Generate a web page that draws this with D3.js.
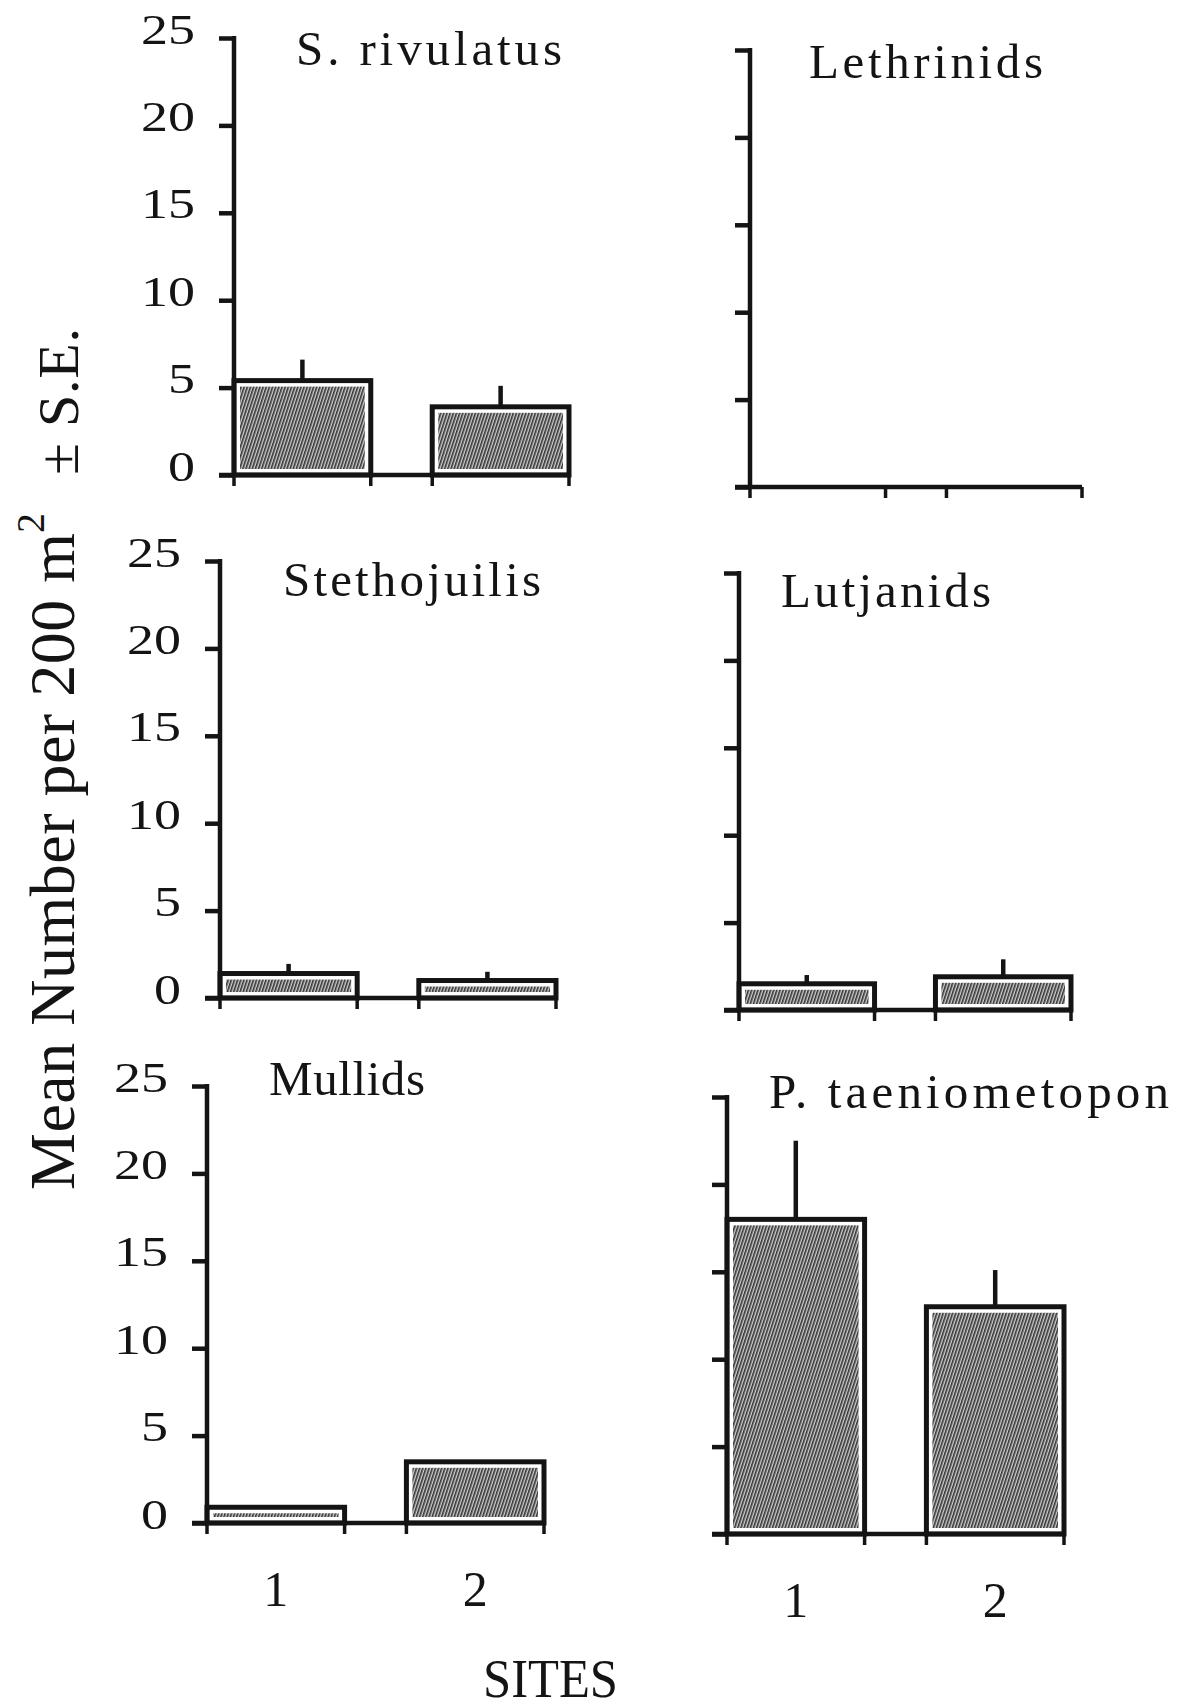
<!DOCTYPE html>
<html>
<head>
<meta charset="utf-8">
<script src="https://cdn.jsdelivr.net/npm/d3@7"></script>
<style>
  html, body { margin: 0; padding: 0; background: #fff; }
  svg { display: block; }
</style>
</head>
<body>
<script>
// ---------------- data ----------------
const species   = ["S. rivulatus", "Lethrinids", "Stethojuilis", "Lutjanids", "Mullids", "P. taeniometopon"];
const sites     = ["1", "2"];
const site1Mean = [5.4, 0, 1.4, 1.5, 0.9, 18.0];
const site2Mean = [3.9, 0, 1.0, 1.9, 3.5, 13.0];
const site1SE   = [1.2, 0, 0.55, 0.5, 0, 4.5];
const site2SE   = [1.2, 0, 0.5, 1.0, 0, 2.1];
const yTickValues = [0, 5, 10, 15, 20, 25];
const yLabelMain = "Mean Number per 200 m";
const yLabelSup  = "2";
const yLabelTail = "\u00B1 S.E.";
const xTitle = "SITES";

// ---------------- layout (positions only) ----------------
const W = 1193, H = 1708, PH = 437;
const layout = [
  { x0: 234, x1: 569,  y0: 475,  tx: 296, ty: 65,   tw: 266, ticks: true,  xl: false },
  { x0: 750, x1: 1082, y0: 487,  tx: 809, ty: 78,   tw: 234, ticks: false, xl: false },
  { x0: 220, x1: 556,  y0: 998,  tx: 283, ty: 596,  tw: 258, ticks: true,  xl: false },
  { x0: 739, x1: 1071, y0: 1010, tx: 781, ty: 607,  tw: 210, ticks: false, xl: false },
  { x0: 207, x1: 544,  y0: 1523, tx: 269, ty: 1095, tw: 156, ticks: true,  xl: true  },
  { x0: 727, x1: 1064, y0: 1534, tx: 769, ty: 1108, tw: 400, ticks: false, xl: true  }
];

const INK = "#141414";
const SERIF = "'Liberation Serif', 'DejaVu Serif', serif";

const svg = d3.select("body").append("svg")
  .attr("width", W).attr("height", H)
  .attr("viewBox", `0 0 ${W} ${H}`);

svg.append("rect").attr("width", W).attr("height", H).attr("fill", "#fff");

// hatch pattern
const defs = svg.append("defs");
const pat = defs.append("pattern")
  .attr("id", "hatch")
  .attr("patternUnits", "userSpaceOnUse")
  .attr("width", 3).attr("height", 3)
  .attr("patternTransform", "rotate(18)");
pat.append("rect").attr("width", 3).attr("height", 3).attr("fill", "#cfcfcf");
pat.append("line").attr("x1", 0.8).attr("y1", 0).attr("x2", 0.8).attr("y2", 3)
  .attr("stroke", "#333").attr("stroke-width", 1.6);

species.forEach((name, i) => {
  const L = layout[i];
  const g = svg.append("g");
  const means = [site1Mean[i], site2Mean[i]];
  const ses = [site1SE[i], site2SE[i]];

  const y = d3.scaleLinear().domain([0, 25]).range([L.y0, L.y0 - PH]);
  const x = d3.scaleBand().domain(sites).range([L.x0, L.x1])
    .paddingInner(0.31).paddingOuter(0);
  const bw = x.bandwidth();

  // bars
  sites.forEach((s, j) => {
    const v = means[j];
    if (v <= 0) return;
    const bx = x(s), by = y(v), bh = L.y0 - by;
    g.append("rect")
      .attr("x", bx).attr("y", by).attr("width", bw).attr("height", bh)
      .attr("fill", "#fff").attr("stroke", INK).attr("stroke-width", 5);
    const ins = 6;
    if (bh > 2 * ins) {
      g.append("rect")
        .attr("x", bx + ins).attr("y", by + ins)
        .attr("width", bw - 2 * ins).attr("height", bh - 2 * ins)
        .attr("fill", "url(#hatch)");
    }
    if (ses[j] > 0) {
      g.append("line")
        .attr("x1", bx + bw / 2).attr("x2", bx + bw / 2)
        .attr("y1", by).attr("y2", y(v + ses[j]))
        .attr("stroke", INK).attr("stroke-width", 4.5);
    }
  });

  // y axis
  const yAxis = d3.axisLeft(y).tickValues(yTickValues).tickSize(15).tickPadding(24)
    .tickFormat(L.ticks ? d3.format("d") : () => "");
  const ga = g.append("g").attr("transform", `translate(${L.x0},0)`).call(yAxis);
  ga.select(".domain").remove();
  ga.selectAll(".tick line").attr("stroke", INK).attr("stroke-width", 4.5);
  ga.selectAll(".tick text")
    .attr("fill", INK)
    .attr("font-family", SERIF)
    .attr("font-size", 43)
    .attr("dy", "0.12em")
    .each(function () {
      const t = d3.select(this).text();
      if (t) d3.select(this).attr("textLength", 27 * t.length).attr("lengthAdjust", "spacingAndGlyphs");
    });
  g.append("line")
    .attr("x1", L.x0).attr("x2", L.x0)
    .attr("y1", y(25) - 2).attr("y2", L.y0 + 2)
    .attr("stroke", INK).attr("stroke-width", 4.5);

  // x baseline and band-edge ticks
  g.append("line")
    .attr("x1", L.x0 - 15).attr("x2", L.x1)
    .attr("y1", L.y0).attr("y2", L.y0)
    .attr("stroke", INK).attr("stroke-width", 4.5);
  const edges = [];
  sites.forEach(s => { edges.push(x(s)); edges.push(x(s) + bw); });
  g.selectAll(".xt").data(edges).join("line")
    .attr("x1", d => d).attr("x2", d => d)
    .attr("y1", L.y0).attr("y2", L.y0 + 11)
    .attr("stroke", INK).attr("stroke-width", 3.5);

  // x tick labels
  if (L.xl) {
    g.selectAll(".xl").data(sites).join("text")
      .attr("x", d => x(d) + bw / 2)
      .attr("y", L.y0 + 83)
      .attr("text-anchor", "middle")
      .attr("font-family", SERIF)
      .attr("font-size", 50)
      .attr("fill", INK)
      .text(d => d);
  }

  // panel title
  g.append("text")
    .attr("x", L.tx).attr("y", L.ty)
    .attr("font-family", SERIF)
    .attr("font-size", 49)
    .attr("fill", INK)
    .attr("textLength", L.tw)
    .attr("lengthAdjust", "spacing")
    .text(name);
});

// y-axis title (rotated)
svg.append("text")
  .attr("transform", "translate(74,1190) rotate(-90)")
  .attr("font-family", SERIF).attr("font-size", 64).attr("fill", INK)
  .attr("textLength", 657).attr("lengthAdjust", "spacing")
  .text(yLabelMain);
svg.append("text")
  .attr("transform", "translate(44,533) rotate(-90)")
  .attr("font-family", SERIF).attr("font-size", 40).attr("fill", INK)
  .text(yLabelSup);
svg.append("text")
  .attr("transform", "translate(78,475) rotate(-90)")
  .attr("font-family", SERIF).attr("font-size", 58).attr("fill", INK)
  .attr("textLength", 147).attr("lengthAdjust", "spacing")
  .text(yLabelTail);

// x-axis title
svg.append("text")
  .attr("x", 483).attr("y", 1697)
  .attr("font-family", SERIF).attr("font-size", 54).attr("fill", INK)
  .attr("textLength", 135).attr("lengthAdjust", "spacingAndGlyphs")
  .text(xTitle);
</script>
</body>
</html>
